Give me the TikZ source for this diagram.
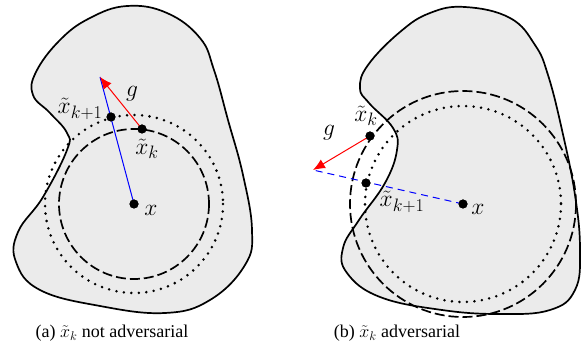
\RequirePackage{fix-cm}
\documentclass[tikz,border=0pt]{standalone}
\usepackage{fontspec}
\setmainfont{Liberation Serif}
\usetikzlibrary{arrows.meta}
\definecolor{blobgray}{HTML}{EBEBEB}
\newcommand{\lsub}[1]{\mbox{\fontsize{18}{18}\selectfont$#1$}}
\tikzset{
  blob/.style={fill=blobgray, draw=black, line width=1.7pt},
  dashcirc/.style={draw=black, line width=1.7pt, dash pattern=on 10pt off 4pt},
  dotcirc/.style={draw=black, line width=2.8pt, line cap=round, dash pattern=on 0pt off 7.5pt},
  pt/.style={circle, fill=black, inner sep=0pt, minimum size=9pt},
  lab/.style={font=\fontsize{23.5}{25}\selectfont, inner sep=0pt},
  captext/.style={font=\fontsize{18}{20}\selectfont, inner sep=0pt},
  grad/.style={red, line width=1pt, -{Latex[length=12pt,width=10pt]}},
  stepline/.style={blue, line width=1pt}
}
\begin{document}
\begin{tikzpicture}[x=1pt,y=-1pt]
\useasboundingbox (0,0) rectangle (584,352);
% ---------- (a) ----------
\draw[blob] plot[smooth cycle, tension=0.7] coordinates {
(127,6) (167,13) (200,38) (214,70) (228,120) (243,175) (252,230) (245,265)
(210,300) (165,313) (100,306) (40,290) (16,262) (18,232) (43,197) (67,150)
(67,133) (50,113) (33,95) (36,72) (60,40) (90,18)};
\draw[dashcirc] (134,204) circle[radius=75];
\draw[dotcirc] (134,204) circle[radius=89];
\node[pt] (xa) at (134,204) {};
\node[pt] (xka) at (142,129) {};
\node[pt] (xkoa) at (111,117) {};
\coordinate (tipa) at (100,77);
\draw[stepline] (xa.center) -- (tipa);
\draw[grad] (xka.center) -- (tipa);
\node[pt] at (xka) {};
\node[pt] at (xkoa) {};
\node[pt] at (xa) {};
\node[lab] (la) at (151,210) {$x$};
\node[lab] (lka) at (147,149) {$\tilde x_{\lsub{k}}$};
\node[lab] (lkoa) at (80,109) {$\tilde x_{\lsub{k{+}1}}$};
\node[lab] (lga) at (132,94) {$g$};
\node[captext] (capa) at (112,333) {(a) $\tilde x_k$ not adversarial};
% ---------- (b) ----------
\draw[blob] plot[smooth cycle, tension=0.7] coordinates {
(465,7) (510,18) (535,45) (548,75) (562,130) (575,195) (580,250) (575,290)
(550,310) (500,314) (442,310) (380,297) (347,273) (343,248) (359,220)
(385,183) (397,150) (393,128) (369,103) (360,88) (368,65) (400,32) (430,13)};
\draw[dashcirc] (463,204) circle[radius=113];
\draw[dotcirc] (463,204) circle[radius=98];
\node[pt] (xb) at (463,204) {};
\node[pt] (xkb) at (370,136) {};
\node[pt] (xkob) at (366,183) {};
\coordinate (tipb) at (313,170);
\draw[stepline, dashed, dash pattern=on 7pt off 5pt] (xb.center) -- (tipb);
\draw[grad] (xkb.center) -- (tipb);
\node[pt] at (xkb) {};
\node[pt] at (xkob) {};
\node[pt] at (xb) {};
\node[lab] (lb) at (478,209) {$x$};
\node[lab] (lkb) at (366,116) {$\tilde x_{\lsub{k}}$};
\node[lab] (lkob) at (402,202) {$\tilde x_{\lsub{k{+}1}}$};
\node[lab] (lgb) at (329,133) {$g$};
\node[captext] (capb) at (397,333) {(b) $\tilde x_k$ adversarial};
\end{tikzpicture}
\end{document}
